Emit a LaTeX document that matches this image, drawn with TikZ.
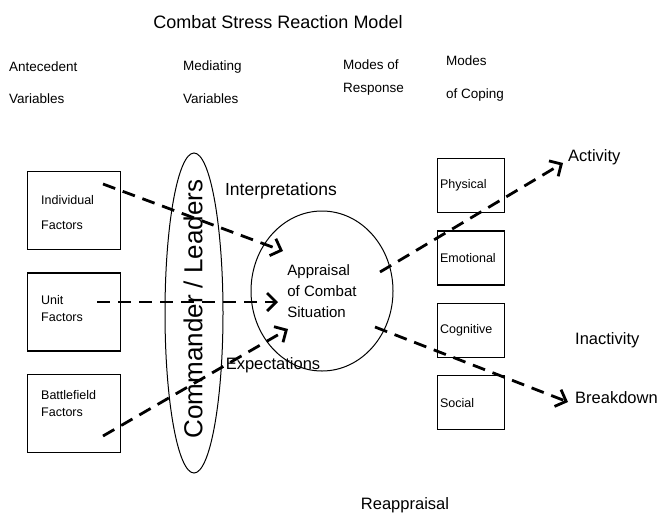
\documentclass[tikz,border=0pt]{standalone}
\usepackage{fontspec}
\setmainfont{Liberation Sans}
\usepackage{tikz}
\usetikzlibrary{arrows.meta,positioning,shapes.geometric}
\tikzset{
  headlabel/.style={
    anchor=west,
    inner sep=0pt,
    font=\fontsize{13.5}{16}\selectfont
  },
  outcomelabel/.style={
    anchor=west,
    inner sep=0pt,
    font=\fontsize{16.5}{19}\selectfont
  },
  factorbox/.style={
    draw,
    line width=1.3pt,
    anchor=north west,
    minimum width=93pt,
    minimum height=78pt
  },
  boxtext/.style={
    inner sep=0pt,
    align=left,
    font=\fontsize{12.5}{17}\selectfont
  },
  responsebox/.style={
    draw,
    line width=1.3pt,
    minimum width=67pt,
    minimum height=54pt,
    text width=62pt,
    inner xsep=2.5pt,
    align=left,
    font=\fontsize{12.5}{14}\selectfont
  },
  dasharrow/.style={
    -{Straight Barb[length=9pt,width=18pt,line width=2.8pt]},
    line width=2.8pt,
    dash pattern=on 13pt off 8pt
  }
}
\begin{document}
\begin{tikzpicture}[x=1pt,y=-1pt]
\useasboundingbox (0,0) rectangle (660,514);
\node[font=\fontsize{18}{21}\selectfont, inner sep=0pt] (title) at (278,22) {Combat Stress Reaction Model};

% column headings
\node[headlabel] (antecedent) at (9,67) {Antecedent};
\node[headlabel] (antecedent2) at (9,99) {Variables};
\node[headlabel] (mediating) at (183,67) {Mediating};
\node[headlabel] (mediating2) at (183,99) {Variables};
\node[headlabel] (response) at (343,65) {Modes of};
\node[headlabel] (response2) at (343,89) {Response};
\node[headlabel] (coping) at (446,61) {Modes};
\node[headlabel] (coping2) at (446,95) {of Coping};

% antecedent variables
\node[factorbox] (indiv) at (27,171) {};
\node[factorbox, below=22pt of indiv] (unit) {};
\node[factorbox, below=22pt of unit] (battle) {};
\node[boxtext, anchor=north west] (indivtext) at (41,195) {Individual\\[8pt]Factors};
\node[boxtext, anchor=north west] (unittext) at (41,295) {Unit\\Factors};
\node[boxtext, anchor=north west] (battletext) at (41,390) {Battlefield\\Factors};

% mediating variables
\node[draw, ellipse, line width=1pt, minimum width=58pt, minimum height=320pt, inner sep=0pt] (ring) at (194,313) {};
\node[rotate=90, inner sep=0pt, font=\fontsize{26}{30}\selectfont] (leaders) at (193,309) {Commander / Leaders};
\node[draw, ellipse, line width=1pt, minimum width=142pt, minimum height=160pt, align=left,
  font=\fontsize{15}{21}\selectfont] (appraisal) at (322,291) {Appraisal\\of Combat\\Situation};
\node[outcomelabel, anchor=center, font=\fontsize{17.5}{20}\selectfont] (interp) at (281,191) {Interpretations};
\node[outcomelabel, anchor=center] (expect) at (273,365) {Expectations};

% modes of response
\node[responsebox, anchor=north west] (physical) at (437,158) {Physical};
\node[responsebox, below=17pt of physical] (emotional) {Emotional};
\node[responsebox, below=17pt of emotional] (cognitive) {Cognitive};
\node[responsebox, below=17pt of cognitive] (social) {Social};

% modes of coping
\node[outcomelabel] (activity) at (568,157) {Activity};
\node[outcomelabel] (inactivity) at (575,340) {Inactivity};
\node[outcomelabel] (breakdown) at (575,398) {Breakdown};
\node[outcomelabel, anchor=center] (reappraisal) at (405,505) {Reappraisal};

% arrow ends
\coordinate (indivout) at (103,184);
\coordinate (unitout) at (97,302);
\coordinate (battleout) at (103,436);
\coordinate (indivin) at (283,251);
\coordinate (unitin) at (278,302);
\coordinate (battlein) at (288,329);
\coordinate (upout) at (380,272);
\coordinate (downout) at (375,327);
\coordinate (activityin) at (563,163);
\coordinate (breakdownin) at (568,402);

\draw[dasharrow] (indivout) -- (indivin);
\draw[dasharrow] (unitout) -- (unitin);
\draw[dasharrow] (battleout) -- (battlein);
\draw[dasharrow] (upout) -- (activityin);
\draw[dasharrow] (downout) -- (breakdownin);
\end{tikzpicture}
\end{document}
